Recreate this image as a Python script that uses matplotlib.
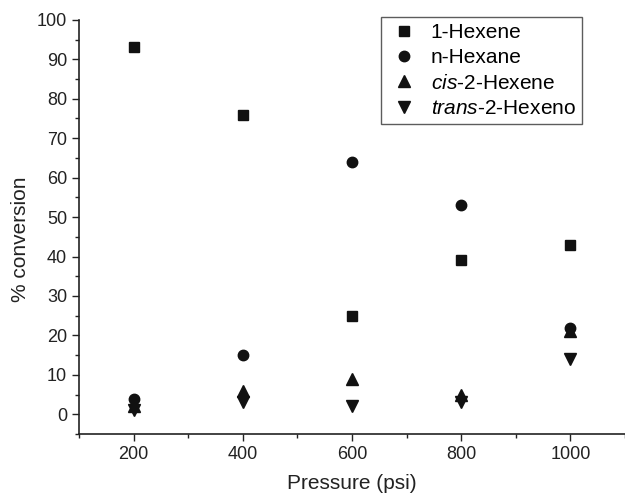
import matplotlib.pyplot as plt
from matplotlib.ticker import MultipleLocator

plt.rcParams['font.family'] = ['Liberation Sans', 'DejaVu Sans']
plt.rcParams['mathtext.fontset'] = 'custom'
plt.rcParams['mathtext.it'] = 'Liberation Sans:italic'
plt.rcParams['mathtext.rm'] = 'Liberation Sans'

pressure = [200, 400, 600, 800, 1000]
hexene_1 = [93, 76, 25, 39, 43]
n_hexane = [4, 15, 64, 53, 22]
cis_2_hexene = [2, 6, 9, 5, 21]
trans_2_hexeno = [1, 3, 2, 3, 14]

fig = plt.figure(figsize=(6.25, 4.96), dpi=100)
ax = fig.add_axes([0.1264, 0.125, 0.8736, 0.835])

ax.plot(pressure, hexene_1, 's', color='#111111', ms=6.5, label='1-Hexene')
ax.plot(pressure, n_hexane, 'o', color='#111111', ms=7.5, label='n-Hexane')
ax.plot(pressure, cis_2_hexene, '^', color='#111111', ms=8, label='$\\mathit{cis}$-2-Hexene')
ax.plot(pressure, trans_2_hexeno, 'v', color='#111111', ms=8, label='$\\mathit{trans}$-2-Hexeno')

ax.set_xlim(100, 1100)
ax.set_ylim(-5, 100)
ax.xaxis.set_minor_locator(MultipleLocator(100))
ax.yaxis.set_major_locator(MultipleLocator(10))
ax.yaxis.set_minor_locator(MultipleLocator(5))
ax.set_xticks([200, 400, 600, 800, 1000])

for s in ['top', 'right']:
    ax.spines[s].set_visible(False)
for s in ['left', 'bottom']:
    ax.spines[s].set_linewidth(1.2)
    ax.spines[s].set_color('#222222')

ax.tick_params(which='major', direction='out', length=5, width=1, labelsize=13, colors='#222222')
ax.tick_params(which='minor', direction='out', length=3, width=1, colors='#222222')

ax.set_xlabel('Pressure (psi)', fontsize=15, color='#222222', labelpad=8)
ax.set_ylabel('% conversion', fontsize=15, color='#222222')
ax.yaxis.set_label_coords(-0.09, 0.47)

# legend box sits a bit left of the right edge, top just above the axes
leg = ax.legend(loc='upper right', bbox_to_anchor=(0.921, 1.007), borderaxespad=0,
                fontsize=15, frameon=True, fancybox=False, edgecolor='#333333',
                handletextpad=0.5, borderpad=0.3, labelspacing=0.3, handlelength=1.6)
leg.get_frame().set_linewidth(1.0)

fig.savefig('out.png', dpi=100)
